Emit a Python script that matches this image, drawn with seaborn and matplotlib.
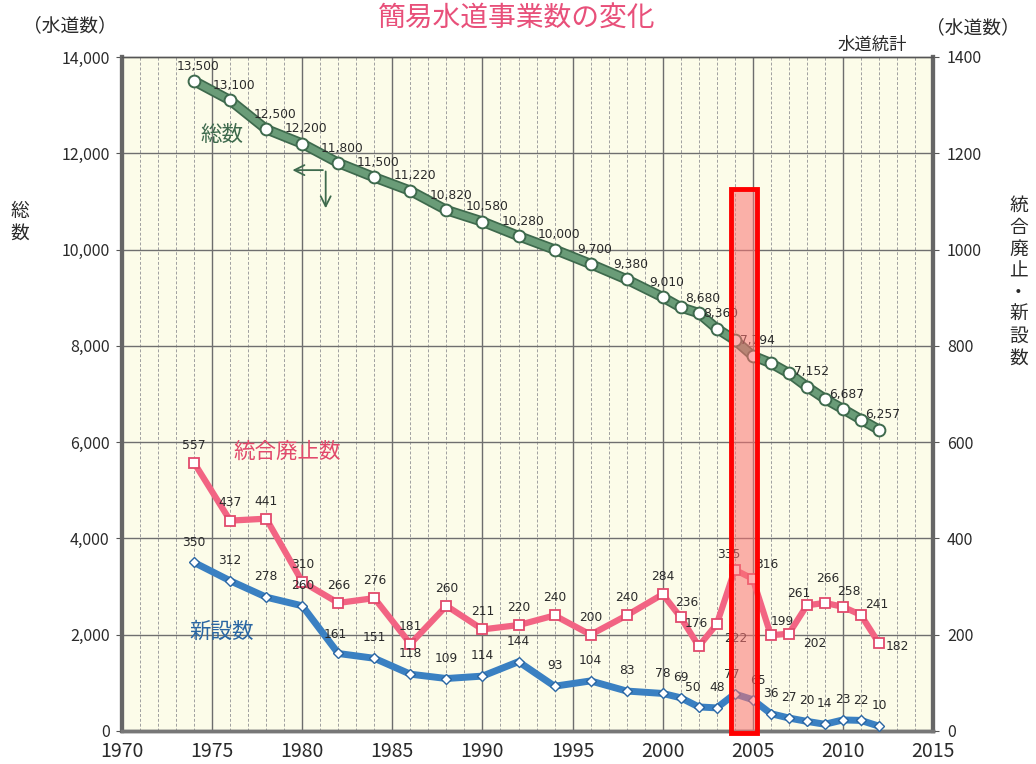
import numpy as np
import pandas as pd
import matplotlib
matplotlib.use("Agg")
import matplotlib.pyplot as plt
from matplotlib.patches import Rectangle
import seaborn as sns

# ---------------- data ----------------
years = [1974, 1976, 1978, 1980, 1982, 1984, 1986, 1988, 1990, 1992, 1994, 1996, 1998,
         2000, 2001, 2002, 2003, 2004, 2005, 2006, 2007, 2008, 2009, 2010, 2011, 2012]
total = [13500, 13100, 12500, 12200, 11800, 11500, 11220, 10820, 10580, 10280, 10000, 9700, 9380,
         9010, 8800, 8680, 8360, 8120, 7794, 7640, 7430, 7152, 6900, 6687, 6470, 6257]
total_labeled = [True] * 13 + [True, False, True, True, False, True, False, False, True, False, True, False, True]
abolished = [557, 437, 441, 310, 266, 276, 181, 260, 211, 220, 240, 200, 240,
             284, 236, 176, 222, 335, 316, 199, 202, 261, 266, 258, 241, 182]
new = [350, 312, 278, 260, 161, 151, 118, 109, 114, 144, 93, 104, 83,
       78, 69, 50, 48, 77, 65, 36, 27, 20, 14, 23, 22, 10]
left_ticks = [0, 2000, 4000, 6000, 8000, 10000, 12000, 14000]
right_ticks = [0, 200, 400, 600, 800, 1000, 1200, 1400]
x_ticks = [1970, 1975, 1980, 1985, 1990, 1995, 2000, 2005, 2010, 2015]

title = "簡易水道事業数の変化"
source = "水道統計"

df = pd.DataFrame({"year": years, "total": total, "abolished": abolished, "new": new})

# ---------------- style ----------------
sns.set_theme(style="white")
plt.rcParams["font.family"] = ["Noto Sans CJK JP", "DejaVu Sans"]

GREEN = "#6a9c78"
GREEN_DARK = "#3e6a4d"
PINK = "#f26483"
PINK_DARK = "#e24a6c"
BLUE = "#3a80c2"
BLUE_DARK = "#2a66a3"
TXT = "#2a2a2a"

fig = plt.figure(figsize=(10.36, 7.64), dpi=100)
ax = fig.add_axes([0.1178, 0.0432, 0.7828, 0.8822])
ax.set_facecolor("#fcfce9")
ax2 = ax.twinx()
ax2.patch.set_visible(False)

ax.set_xlim(1970, 2015)
ax.set_ylim(0, 14000)
ax2.set_ylim(0, 1400)

# grid
for yr in range(1971, 2015):
    if yr % 5 == 0:
        ax.axvline(yr, color="#6d6d6d", lw=1.0, zorder=0.5)
    else:
        ax.axvline(yr, color="#a0a0a0", lw=0.7, ls=(0, (3, 2)), zorder=0.5)
for v in left_ticks[1:-1]:
    ax.axhline(v, color="#6f6f6f", lw=1.0, zorder=0.5)

# lines
sns.lineplot(data=df, x="year", y="total", ax=ax, color=GREEN_DARK, lw=7.5, zorder=2.9)
sns.lineplot(data=df, x="year", y="total", ax=ax, color=GREEN, lw=5,
             marker="o", markersize=8.5, markerfacecolor="white",
             markeredgecolor=GREEN_DARK, markeredgewidth=1.4, zorder=3)
sns.lineplot(data=df, x="year", y="abolished", ax=ax2, color=PINK, lw=4.5,
             marker="s", markersize=7.5, markerfacecolor="white",
             markeredgecolor=PINK_DARK, markeredgewidth=1.3, zorder=3)
sns.lineplot(data=df, x="year", y="new", ax=ax2, color=BLUE, lw=5,
             marker="D", markersize=5.5, markerfacecolor="white",
             markeredgecolor=BLUE_DARK, markeredgewidth=1.0, zorder=3)

# data labels
lab_kw = dict(fontsize=8.8, color=TXT, family="DejaVu Sans", zorder=5)
tot_off = {1978: (6, 6)}
for y, v, show in zip(years, total, total_labeled):
    if not show:
        continue
    dx, dy = tot_off.get(y, (3, 6))
    ax.annotate(f"{v:,}", (y, v), xytext=(dx, dy), textcoords="offset points",
                ha="center", va="bottom", **lab_kw)

ab_off = {2003: (14, -6, "center", "top"), 2004: (-4, 6, "center", "bottom"),
          2005: (10, 6, "center", "bottom"), 2006: (8, 5, "center", "bottom"),
          2007: (10, -2, "left", "top"), 2012: (5, -2, "left", "center"),
          2002: (-2, 12, "center", "bottom"), 2011: (3, 3, "left", "bottom"),
          2001: (4, 6, "center", "bottom"), 2008: (-6, 4, "center", "bottom"),
          2009: (2, 13, "center", "bottom"), 2010: (4, 6, "center", "bottom")}
for y, v in zip(years, abolished):
    dx, dy, ha, va = ab_off.get(y, (0, 8, "center", "bottom"))
    ax2.annotate(f"{v}", (y, v), xytext=(dx, dy), textcoords="offset points",
                 ha=ha, va=va, **lab_kw)

new_off = {1982: (-2, 9), 2004: (-2, 9), 2005: (4, 9), 2002: (-4, 9)}
for y, v in zip(years, new):
    dx, dy = new_off.get(y, (0, 10))
    ax2.annotate(f"{v}", (y, v), xytext=(dx, dy), textcoords="offset points",
                 ha="center", va="bottom", **lab_kw)

# series names in plot
ax.text(1975.55, 12380, "総数", color=GREEN_DARK, fontsize=15.5, ha="center", va="center", zorder=5)
ax2.text(1979.15, 580, "統合廃止数", color=PINK_DARK, fontsize=15.5, ha="center", va="center", zorder=5)
ax2.text(1975.55, 206, "新設数", color=BLUE_DARK, fontsize=15.5, ha="center", va="center", zorder=5)

# L-shaped arrow indicating left axis
ax.annotate("", xy=(1979.3, 11650), xytext=(1981.3, 11650),
            arrowprops=dict(arrowstyle="->", color=GREEN_DARK, lw=1.3, mutation_scale=18), zorder=5)
ax.annotate("", xy=(1981.3, 10800), xytext=(1981.3, 11680),
            arrowprops=dict(arrowstyle="->", color=GREEN_DARK, lw=1.3, mutation_scale=18), zorder=5)

# highlight rectangle
rect = Rectangle((2003.8, -4), 1.45, 1129, transform=ax2.transData, clip_on=False,
                 facecolor=(0.98, 0.45, 0.45, 0.55), edgecolor="#ff0000", lw=3.5, zorder=10)
ax2.add_patch(rect)

# ticks
ax.set_xticks(x_ticks)
ax.set_xticklabels([str(t) for t in x_ticks], fontsize=14, color=TXT)
ax.set_yticks(left_ticks)
ax.set_yticklabels([f"{t:,}" for t in left_ticks], fontsize=11.5, color=TXT)
ax2.set_yticks(right_ticks)
ax2.set_yticklabels([str(t) for t in right_ticks], fontsize=11.5, color=TXT)
ax.tick_params(axis="both", which="both", length=4, width=0.8, color="#555555", pad=5)
ax.tick_params(axis="x", pad=3)
ax2.tick_params(axis="y", length=4, width=0.8, color="#555555", pad=6)
ax.set_xlabel("")
ax.set_ylabel("")
ax2.set_ylabel("")

for a in (ax, ax2):
    for side in ("left", "right"):
        a.spines[side].set_color("#666666")
        a.spines[side].set_linewidth(3)
    a.spines["bottom"].set_color("#777777")
    a.spines["bottom"].set_linewidth(2.5)
    a.spines["top"].set_color("#555555")
    a.spines["top"].set_linewidth(1.0)

# titles and axis captions
fig.text(0.499, 0.975, title, color="#e8507a", fontsize=20, ha="center", va="center")
fig.text(0.0676, 0.966, "（水道数）", color=TXT, fontsize=13.5, ha="center", va="center")
fig.text(0.939, 0.964, "（水道数）", color=TXT, fontsize=13.5, ha="center", va="center")
fig.text(0.842, 0.941, source, color=TXT, fontsize=12.5, ha="center", va="center")
fig.text(0.0193, 0.709, "総\n数", color=TXT, fontsize=13.5, ha="center", va="center", linespacing=1.1)
fig.text(0.983, 0.631, "統\n合\n廃\n止\n・\n新\n設\n数", color=TXT, fontsize=13.5,
         ha="center", va="center", linespacing=1.05)

fig.savefig("out.png", dpi=100, facecolor="white")
